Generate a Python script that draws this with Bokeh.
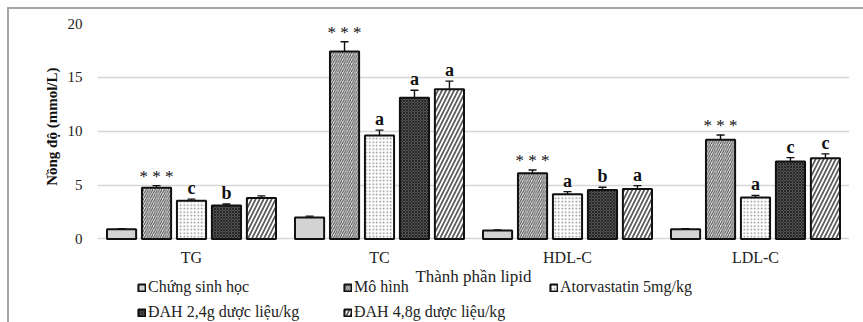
from bokeh.plotting import figure
from bokeh.models import (ColumnDataSource, FactorRange, Whisker, Legend, LegendItem,
                          FixedTicker, TeeHead, Title)
from bokeh.transform import dodge
from bokeh.core.properties import value
from bokeh.embed import file_html
from bokeh.resources import INLINE

categories = ["TG", "TC", "HDL-C", "LDL-C"]
group_names = ["Chứng sinh học", "Mô hình", "Atorvastatin 5mg/kg",
               "ĐAH 2,4g dược liệu/kg", "ĐAH 4,8g dược liệu/kg"]

chung = [0.9, 2.0, 0.8, 0.9]
mo_hinh = [4.75, 17.4, 6.1, 9.2]
atorva = [3.55, 9.6, 4.15, 3.85]
dah24 = [3.1, 13.1, 4.55, 7.2]
dah48 = [3.8, 13.9, 4.65, 7.5]

chung_err = [0.05, 0.12, 0.05, 0.05]
mo_hinh_err = [0.2, 0.9, 0.3, 0.45]
atorva_err = [0.15, 0.5, 0.25, 0.2]
dah24_err = [0.15, 0.7, 0.25, 0.35]
dah48_err = [0.2, 0.75, 0.3, 0.4]

chung_sig = ["", "", "", ""]
mo_hinh_sig = ["* * *", "* * *", "* * *", "* * *"]
atorva_sig = ["c", "a", "a", "a"]
dah24_sig = ["b", "a", "b", "c"]
dah48_sig = ["", "a", "a", "c"]

y_ticks = [0, 5, 10, 15, 20]

series = [
    (chung, chung_err, chung_sig),
    (mo_hinh, mo_hinh_err, mo_hinh_sig),
    (atorva, atorva_err, atorva_sig),
    (dah24, dah24_err, dah24_sig),
    (dah48, dah48_err, dah48_sig),
]

styles = [
    dict(fill_color="#d3d3d3", hatch_pattern=None),
    dict(fill_color="#e4e4e4", hatch_pattern="right_diagonal_line", hatch_color="#4a4a4a", hatch_scale=4.5, hatch_weight=1),
    dict(fill_color="#ffffff", hatch_pattern="dot", hatch_color="#8a8a8a", hatch_scale=3.5, hatch_weight=1),
    dict(fill_color="#555555", hatch_pattern="diagonal_cross", hatch_color="#262626", hatch_scale=3, hatch_weight=1),
    dict(fill_color="#ffffff", hatch_pattern="right_diagonal_line", hatch_color="#5a5a5a", hatch_scale=8, hatch_weight=1.7),
]

offsets = [-0.372, -0.186, 0.0, 0.186, 0.372]
bar_w = 0.155
FONT = "Liberation Serif"

p = figure(width=863, height=322, x_range=FactorRange(*categories), y_range=(-7.75, 20),
           output_backend="svg", toolbar_location=None,
           min_border_left=97, min_border_right=14, min_border_top=23, min_border_bottom=0)
p.outline_line_color = None
p.border_fill_color = None
p.background_fill_color = "white"
p.styles = {"background": "linear-gradient(#a6a6a6,#a6a6a6) 7px 8px / 2px 314px no-repeat, "
                          "linear-gradient(#a6a6a6,#a6a6a6) 7px 7px / 856px 2px no-repeat, white"}

items = []
for i, ((vals, errs, sigs), st) in enumerate(zip(series, styles)):
    src = ColumnDataSource(dict(cat=categories, val=vals,
                                upper=[v + e for v, e in zip(vals, errs)],
                                lower=[v - e for v, e in zip(vals, errs)],
                                sig=sigs))
    kw = dict(st)
    hp = kw.pop("hatch_pattern")
    if hp is not None:
        kw["hatch_pattern"] = hp
    r = p.vbar(x=dodge("cat", offsets[i], range=p.x_range), top="val", width=bar_w, source=src,
               line_color="#111111", line_width=2, **kw)
    items.append(LegendItem(label=group_names[i], renderers=[r]))
    w = Whisker(base=dodge("cat", offsets[i], range=p.x_range), upper="upper", lower="lower", source=src,
                line_color="#111111", line_width=1.4)
    w.upper_head = TeeHead(size=8, line_color="#111111", line_width=1.4)
    w.lower_head = TeeHead(size=8, line_color="#111111", line_width=1.4)
    p.add_layout(w)
    is_star = (i == 1)
    p.text(x=dodge("cat", offsets[i], range=p.x_range), y="upper", text="sig", source=src,
           text_font=value(FONT), text_font_size="17px" if is_star else "18px",
           text_font_style="normal" if is_star else "bold",
           text_align="center", text_baseline="bottom", y_offset=0 if is_star else -1,
           text_color="#111111")

p.yaxis.ticker = FixedTicker(ticks=y_ticks)
p.ygrid.grid_line_color = "#d6d6d6"
p.ygrid.grid_line_width = 1.5
p.xgrid.grid_line_color = None
p.yaxis.axis_line_color = None
p.yaxis.major_tick_line_color = None
p.yaxis.minor_tick_line_color = None
p.yaxis.major_tick_out = 0
p.yaxis.minor_tick_out = 0
p.yaxis.major_label_standoff = 15
p.yaxis.major_label_text_font = FONT
p.yaxis.major_label_text_font_size = "15px"
p.yaxis.major_label_text_color = "#222222"

ytitle = Title(text="Nồng độ (mmol/L)", align="right", offset=44,
               text_font=FONT, text_font_size="15px", text_font_style="bold", text_color="#111111")
p.add_layout(ytitle, "left")

p.xaxis.fixed_location = 0
p.xaxis.axis_line_color = None
p.xaxis.major_tick_line_color = None
p.xaxis.major_tick_out = 0
p.xaxis.minor_tick_out = 0
p.xaxis.major_label_standoff = 10
p.xaxis.major_label_text_font = FONT
p.xaxis.major_label_text_font_size = "16px"
p.xaxis.major_label_text_color = "#222222"
p.xaxis.axis_label = "Thành phần lipid"
p.xaxis.axis_label_text_font = FONT
p.xaxis.axis_label_text_font_size = "17px"
p.xaxis.axis_label_text_font_style = "normal"
p.xaxis.axis_label_standoff = -2
p.xaxis.axis_label_text_color = "#222222"

legend = Legend(items=items, location=(40, 1), orientation="horizontal", ncols=3,
                label_text_font=FONT, label_text_font_size="16px", label_text_color="#222222",
                glyph_width=9, glyph_height=9, label_height=16, label_width=188, label_standoff=2,
                spacing=7, padding=0, margin=0, border_line_color=None, background_fill_alpha=0)
p.add_layout(legend, "center")

open("out.html", "w").write(file_html(p, INLINE))
